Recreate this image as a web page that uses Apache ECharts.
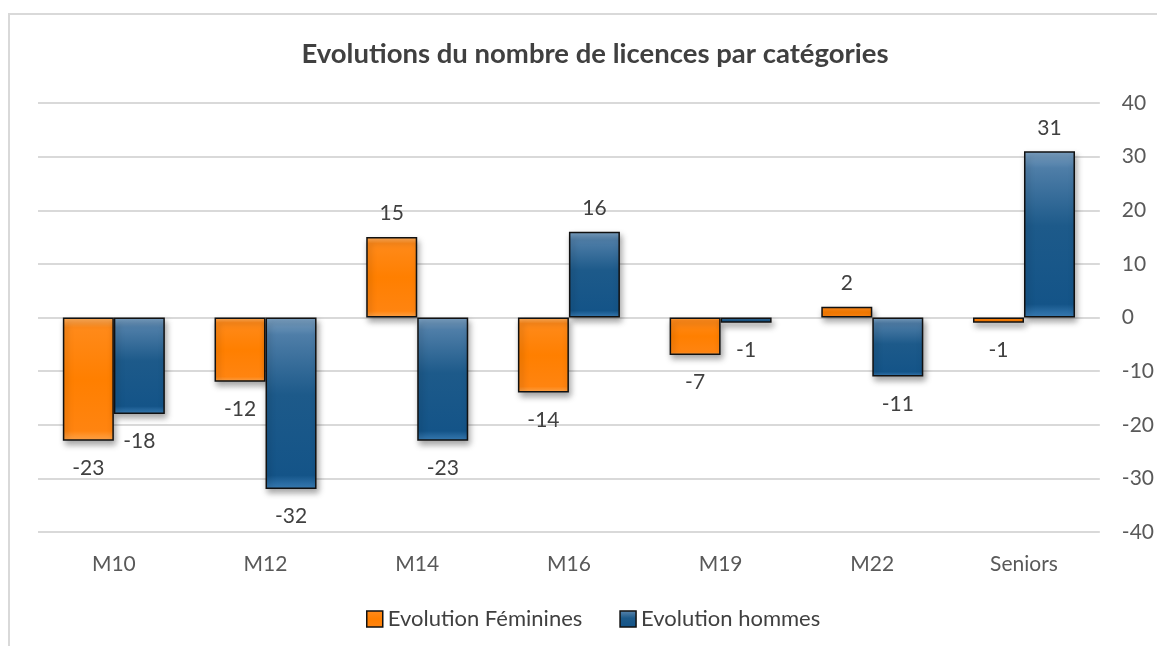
<!DOCTYPE html>
<html><head><meta charset="utf-8">
<script src="https://cdn.jsdelivr.net/npm/echarts@6/dist/echarts.min.js"></script>
<style>html,body{margin:0;padding:0;background:#fff;}#c{width:1157px;height:646px;}</style>
</head><body><div id="c"></div>
<script>
const categories = ['M10','M12','M14','M16','M19','M22','Seniors'];
const feminines = [-23,-12,15,-14,-7,2,-1];
const hommes = [-18,-32,-23,16,-1,-11,31];
const yTicks = {min:-40,max:40,interval:10};
const seriesNames = ['Evolution Féminines','Evolution hommes'];
const titleText = 'Evolutions du nombre de licences par catégories';

const FONT = 'Lato';
const orangeFill = {type:'linear',x:0,y:0,x2:0,y2:1,colorStops:[
  {offset:0,color:'#ffb060'},{offset:0.08,color:'#ff8a1a'},{offset:0.5,color:'#ff7f00'},{offset:0.92,color:'#ff8410'},{offset:1,color:'#ffa64d'}]};
const blueFill = {type:'linear',x:0,y:0,x2:0,y2:1,colorStops:[
  {offset:0,color:'#7ea3c4'},{offset:0.1,color:'#4f7ea8'},{offset:0.45,color:'#1d5a8a'},{offset:0.92,color:'#145488'},{offset:1,color:'#3a7db5'}]};

function mk(vals){
  return vals.map(v=>({value:v,label:{position: v>=0?'top':'bottom', distance: v>=0?13:17}}));
}
function series(name, vals, fill){
  return {name:name,type:'bar',data:mk(vals),barWidth:51,barGap:'0%',
    itemStyle:{color:fill,borderColor:'#111',borderWidth:1.5,shadowColor:'rgba(0,0,0,0.35)',shadowBlur:6,shadowOffsetX:2,shadowOffsetY:4},
    label:{show:true,fontFamily:FONT,fontSize:21,color:'#404040'}};
}
const chart = echarts.init(document.getElementById('c'));
chart.setOption({
  animation:false,
  backgroundColor:'#fff',
  graphic:[{type:'rect',shape:{x:9,y:14,width:1300,height:800},style:{fill:'none',stroke:'#d9d9d9',lineWidth:2},silent:true}],
  title:{text:titleText,left:590,top:35,textAlign:'center',textStyle:{fontFamily:FONT,fontWeight:'bold',fontSize:27.5,color:'#404040'}},
  legend:{bottom:11,left:361,itemWidth:16,itemHeight:16,itemGap:37,
    textStyle:{fontFamily:FONT,fontSize:22,color:'#404040'},
    data:[{name:seriesNames[0],icon:'rect',itemStyle:{color:orangeFill,borderColor:'#111',borderWidth:1.5}},
          {name:seriesNames[1],icon:'rect',itemStyle:{color:blueFill,borderColor:'#111',borderWidth:1.5}}]},
  grid:{left:38,right:57,top:103,bottom:114},
  xAxis:{type:'category',data:categories,axisLine:{show:false,onZero:false},axisTick:{show:false},
    axisLabel:{margin:22,fontFamily:FONT,fontSize:21,color:'#595959'}},
  yAxis:{type:'value',position:'right',min:yTicks.min,max:yTicks.max,interval:yTicks.interval,
    axisLine:{show:false},axisTick:{show:false},
    splitLine:{lineStyle:{color:'#d9d9d9',width:2}},
    axisLabel:{margin:22,align:'left',fontFamily:FONT,fontSize:21,color:'#595959'}},
  series:[series(seriesNames[0],feminines,orangeFill),series(seriesNames[1],hommes,blueFill)]
});
</script></body></html>
